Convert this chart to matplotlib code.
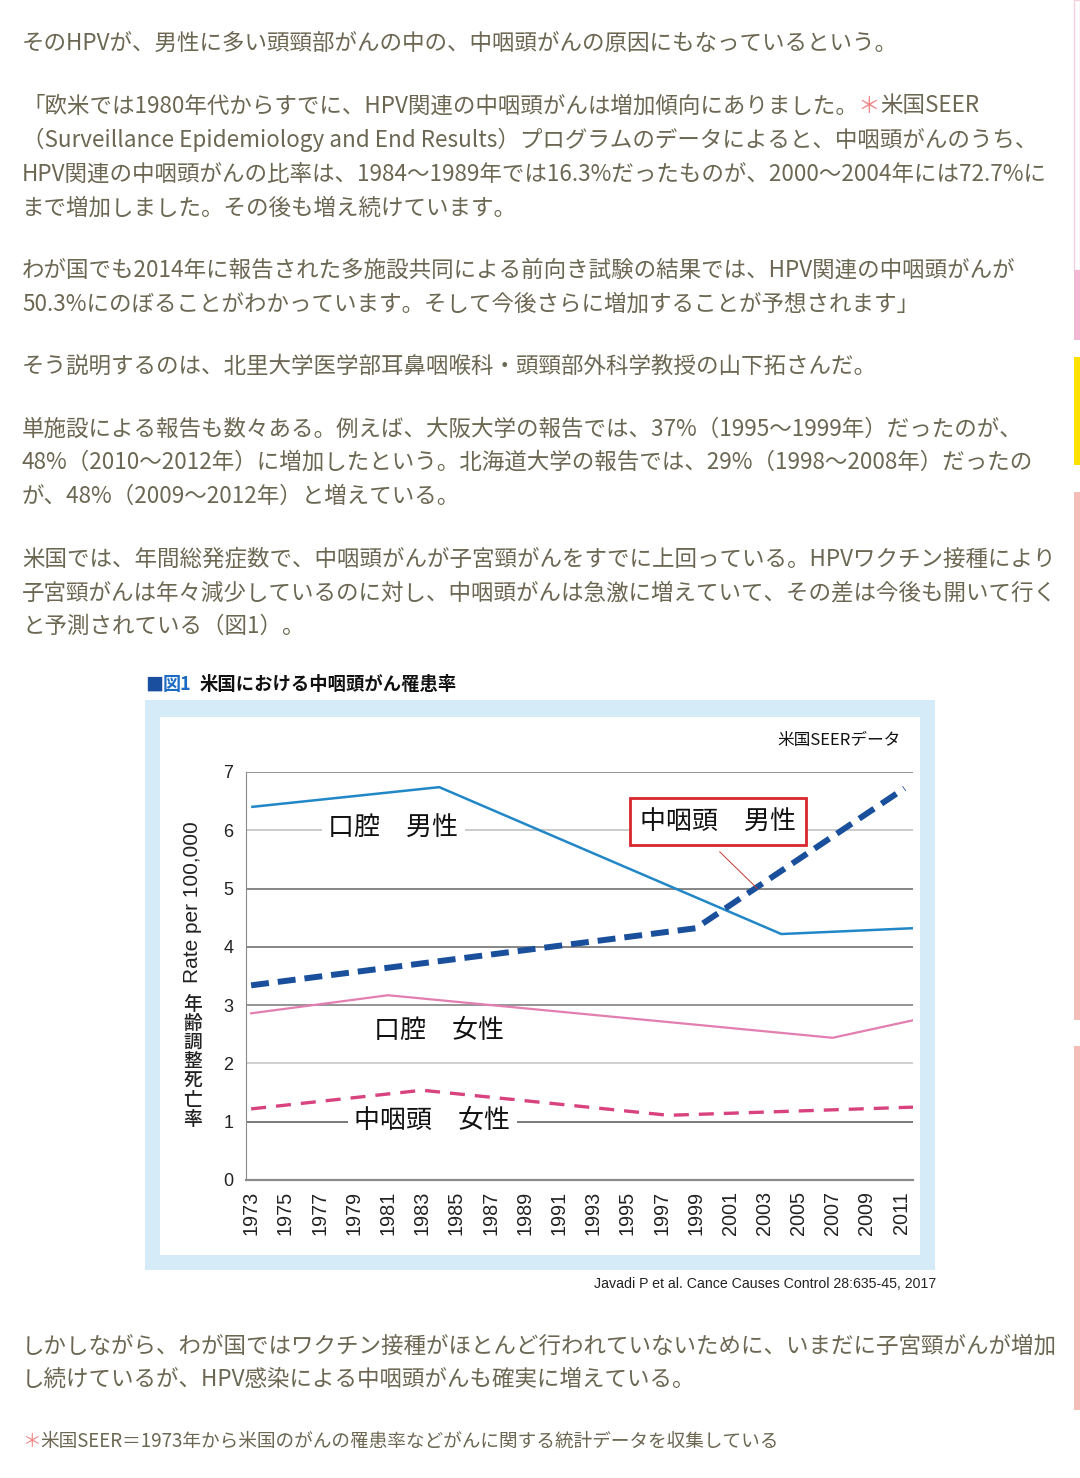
import matplotlib
matplotlib.use('Agg')
import matplotlib.pyplot as plt
from matplotlib.patches import Rectangle

# ---------------- data ----------------
oral_m_years = [1973, 1984, 2004, 2011.7]
oral_m_vals = [6.40, 6.74, 4.22, 4.32]
oro_m_years = [1973, 1999, 2011.2]
oro_m_vals = [3.34, 4.32, 6.72]
oral_f_years = [1973, 1981, 2007, 2011.7]
oral_f_vals = [2.86, 3.17, 2.44, 2.74]
oro_f_years = [1973, 1983, 1997.4, 2011.7]
oro_f_vals = [1.22, 1.54, 1.11, 1.25]
tick_years = list(range(1973, 2012, 2))
y_ticks = [0, 1, 2, 3, 4, 5, 6, 7]

body_lines = [
    (42, "そのHPVが、男性に多い頭頸部がんの中の、中咽頭がんの原因にもなっているという。"),
    (104, "「欧米では1980年代からすでに、HPV関連の中咽頭がんは増加傾向にありました。|＊|米国SEER"),
    (138, "（Surveillance Epidemiology and End Results）プログラムのデータによると、中咽頭がんのうち、"),
    (172, "HPV関連の中咽頭がんの比率は、1984〜1989年では16.3%だったものが、2000〜2004年には72.7%に"),
    (206, "まで増加しました。その後も増え続けています。"),
    (268, "わが国でも2014年に報告された多施設共同による前向き試験の結果では、HPV関連の中咽頭がんが"),
    (302, "50.3%にのぼることがわかっています。そして今後さらに増加することが予想されます」"),
    (364, "そう説明するのは、北里大学医学部耳鼻咽喉科・頭頸部外科学教授の山下拓さんだ。"),
    (427, "単施設による報告も数々ある。例えば、大阪大学の報告では、37%（1995〜1999年）だったのが、"),
    (460, "48%（2010〜2012年）に増加したという。北海道大学の報告では、29%（1998〜2008年）だったの"),
    (494, "が、48%（2009〜2012年）と増えている。"),
    (557, "米国では、年間総発症数で、中咽頭がんが子宮頸がんをすでに上回っている。HPVワクチン接種により"),
    (591, "子宮頸がんは年々減少しているのに対し、中咽頭がんは急激に増えていて、その差は今後も開いて行く"),
    (624, "と予測されている（図1）。"),
    (1344, "しかしながら、わが国ではワクチン接種がほとんど行われていないために、いまだに子宮頸がんが増加"),
    (1377, "し続けているが、HPV感染による中咽頭がんも確実に増えている。"),
]
footnote = "|＊|米国SEER＝1973年から米国のがんの罹患率などがんに関する統計データを収集している"

# ---------------- figure ----------------
W, H = 1080, 1478
JP = ['Noto Sans CJK JP', 'DejaVu Sans']
plt.rcParams['font.family'] = JP
fig = plt.figure(figsize=(W / 100, H / 100), dpi=100)
bg = fig.add_axes([0, 0, 1, 1])
bg.set_xlim(0, W)
bg.set_ylim(H, 0)
bg.axis('off')
renderer = fig.canvas.get_renderer()

TXT = '#6b6752'
PINK = '#f08a8a'


def seg_text(x, y, s, size, base_color):
    parts = s.split('|')
    for p in parts:
        if not p:
            continue
        col = PINK if p == '＊' else base_color
        t = bg.text(x, y, p, fontsize=size, color=col, va='center', ha='left', family=JP)
        bb = t.get_window_extent(renderer=renderer)
        x += bb.width


for y, s in body_lines:
    seg_text(22, y + 2, s, 16.2, TXT)
seg_text(22, 1441, footnote, 13.45, TXT)

# right edge decoration bars
bg.add_patch(Rectangle((1074, 0), 6, 270, fc='white', ec='#f6d0e0', lw=1))
bg.add_patch(Rectangle((1074, 270), 6, 70, fc='#f4b6d2', ec='none'))
bg.add_patch(Rectangle((1074, 357), 6, 108, fc='#ffe100', ec='none'))
bg.add_patch(Rectangle((1074, 492), 6, 528, fc='#f5bcb8', ec='none'))
bg.add_patch(Rectangle((1074, 1046), 6, 364, fc='#f5bcb8', ec='none'))

# chart frame
bg.add_patch(Rectangle((145, 700), 790, 570, fc='#d5ebf7', ec='none'))
bg.add_patch(Rectangle((160, 717), 760, 538, fc='white', ec='none'))

# title
bg.text(145, 685, "■", fontsize=13, color='#1a4fa0', va='center', ha='left', weight='bold')
bg.text(163, 685, "図1", fontsize=13, color='#1b6cc2', va='center', ha='left', weight='bold')
bg.text(200, 685, "米国における中咽頭がん罹患率", fontsize=13.2, color='#111111', va='center',
        ha='left', weight='bold')

bg.text(901, 740, "米国SEERデータ", fontsize=12, color='#111111', va='center', ha='right')

# y-axis label
bg.text(193, 902, "Rate per 100,000", fontsize=15, color='#222222', rotation=90,
        va='center', ha='center', family=['Liberation Sans', 'DejaVu Sans'])
for i, ch in enumerate("年齢調整死亡率"):
    bg.text(193, 1004 + i * 19.3, ch, fontsize=13.5, color='#222222', va='center',
            ha='center', weight='medium')

bg.text(936, 1284, "Javadi P et al. Cance Causes Control 28:635-45, 2017", fontsize=10.2,
        color='#222222', va='center', ha='right',
        family=['Liberation Sans Narrow', 'Liberation Sans', 'DejaVu Sans'])

# ---------------- chart axes ----------------
ax = fig.add_axes([246 / W, 1 - 1180 / H, (913 - 246) / W, (1180 - 772) / H])
ax.set_facecolor('none')
ax.set_xlim(1972.7, 2011.7)
ax.set_ylim(0, 7)

grid_cols = {1: '#555555', 2: '#c4c4c4', 3: '#777777', 4: '#666666', 5: '#666666',
             6: '#bdbdbd', 7: '#777777'}
for v, c in grid_cols.items():
    ax.axhline(v, color=c, lw=1.1, zorder=1)

for sp in ['top', 'right']:
    ax.spines[sp].set_visible(False)
ax.spines['left'].set_color('#8a8a8a')
ax.spines['bottom'].set_color('#8a8a8a')
ax.spines['bottom'].set_linewidth(1.6)

ax.set_yticks(y_ticks)
ax.set_yticklabels([str(v) for v in y_ticks], fontsize=13,
                   family=['Liberation Sans', 'DejaVu Sans'], color='#222222')
ax.set_xticks(tick_years)
ax.set_xticklabels([str(v) for v in tick_years], rotation=90, fontsize=14.3,
                   family=['Liberation Sans', 'DejaVu Sans'], color='#222222', va='top')
ax.tick_params(axis='both', length=0)
ax.tick_params(axis='y', pad=9)
ax.tick_params(axis='x', pad=8)

ax.plot(oral_m_years, oral_m_vals, color='#2187c7', lw=1.8, zorder=3, solid_capstyle='butt')
ax.plot(oro_m_years, oro_m_vals, color='#1a4f9c', lw=4.3, zorder=4,
        dashes=(3.0, 1.5), dash_capstyle='butt')
ax.plot(oral_f_years, oral_f_vals, color='#e27eb0', lw=1.6, zorder=3)
ax.plot(oro_f_years, oro_f_vals, color='#d8427f', lw=2.4, zorder=3,
        dashes=(4.5, 3.0), dash_capstyle='butt')

lbl = dict(fontsize=18.7, color='#111111', ha='center', va='center', zorder=5, family=JP)
ax.text(1981.3, 6.05, "口腔　男性",
        bbox=dict(boxstyle='square,pad=0.25', fc='white', ec='none'), **lbl)
ax.text(1983.6, 1.02, "中咽頭　女性",
        bbox=dict(boxstyle='square,pad=0.25', fc='white', ec='none'), **lbl)
ax.text(1984.0, 2.57, "口腔　女性", **lbl)
ax.plot([2000.4, 2002.6], [5.63, 5.0], color='#c0392b', lw=0.7, zorder=5)
ax.text(2000.3, 6.15, "中咽頭　男性",
        bbox=dict(boxstyle='square,pad=0.4', fc='white', ec='#d7262d', lw=2), **lbl)

fig.savefig('out.png', dpi=100)
